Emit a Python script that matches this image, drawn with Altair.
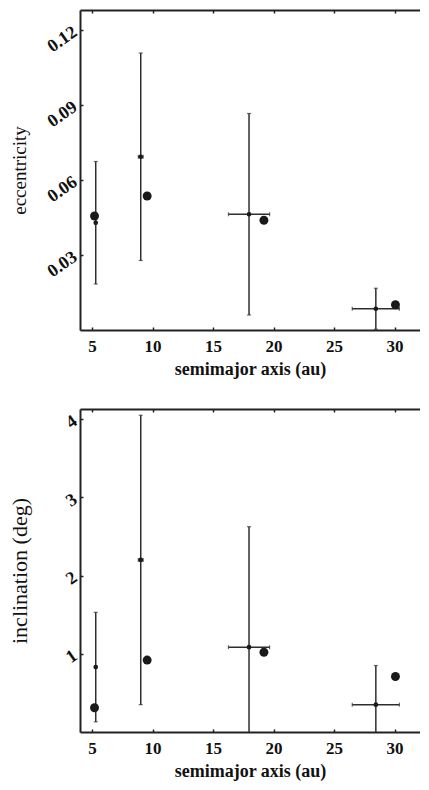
import altair as alt
import pandas as pd

# ---- data ----
planets = ["Jupiter", "Saturn", "Uranus", "Neptune"]
a_obs = [5.3, 9.02, 17.97, 28.45]        # semimajor axis of model point (au)
a_err = [0.05, 0.2, 1.7, 1.95]           # horizontal error half-width
e_obs = [0.0429, 0.0693, 0.0463, 0.0085]
e_err = [0.0245, 0.0415, 0.0403, 0.0082]
i_obs = [0.83, 2.20, 1.085, 0.35]
i_err = [0.70, 1.85, 1.54, 0.50]
a_true = [5.2, 9.55, 19.2, 30.07]        # actual planets (big dots)
e_true = [0.0456, 0.0536, 0.0439, 0.0101]
i_true = [0.31, 0.92, 1.02, 0.71]

x_ticks = [5, 10, 15, 20, 25, 30]
e_ticks = [0.03, 0.06, 0.09, 0.12]
i_ticks = [1, 2, 3, 4]

FONT = "Liberation Serif"
INK = "#1a1a1a"
BAR = "#2e2e2e"
XDOM = [4, 32.1]
W = 340


def panel(yobs, yerr, ytrue, ydom, yvals, yfmt, ytitle, ytsize, h):
    d = pd.DataFrame({
        "planet": planets,
        "a": a_obs,
        "a_lo": [a - e for a, e in zip(a_obs, a_err)],
        "a_hi": [a + e for a, e in zip(a_obs, a_err)],
        "y": yobs,
        "y_lo": [v - e for v, e in zip(yobs, yerr)],
        "y_hi": [v + e for v, e in zip(yobs, yerr)],
        "a_t": a_true,
        "y_t": ytrue,
    })
    xs = alt.Scale(domain=XDOM, nice=False, zero=False)
    ys = alt.Scale(domain=ydom, nice=False, zero=False)
    ticks_in = dict(domain=False, grid=False, offset=-3, tickSize=3,
                    tickColor="#222", tickWidth=1.5)
    frame = dict(domain=True, domainColor="#222", domainWidth=2,
                 ticks=False, labels=False, title=None, grid=False)

    x_main = alt.Axis(orient="bottom", values=x_ticks, format="d",
                      title="semimajor axis (au)",
                      labelFont=FONT, labelFontSize=17, labelFontWeight="bold",
                      labelColor="#111", labelPadding=8,
                      titleFont=FONT, titleFontSize=18, titleFontWeight="bold",
                      titleColor="#111", titleX=W / 2, titleY=42,
                      titleBaseline="middle", **ticks_in)
    y_main = alt.Axis(orient="left", values=yvals, format=yfmt, title=ytitle,
                      labelFont=FONT, labelFontSize=18, labelFontWeight="bold",
                      labelColor="#111", labelAngle=325, labelAlign="right",
                      labelBaseline="middle", labelPadding=5,
                      titleFont=FONT, titleFontSize=ytsize, titleFontWeight="normal",
                      titleColor="#111", titleX=-64, titleY=h / 2,
                      titleBaseline="middle", **ticks_in)
    x_bot_frame = alt.Axis(orient="bottom", **frame)
    y_left_frame = alt.Axis(orient="left", **frame)
    x_top_ticks = alt.Axis(orient="top", values=x_ticks, labels=False, title=None,
                           **ticks_in)
    x_top_frame = alt.Axis(orient="top", **frame)

    vr = alt.Chart(d).mark_rule(color=BAR, strokeWidth=1.5, clip=True).encode(
        x=alt.X("a:Q", scale=xs, axis=x_main),
        y=alt.Y("y_lo:Q", scale=ys, axis=y_main),
        y2="y_hi:Q",
    )
    hr = alt.Chart(d).mark_rule(color=BAR, strokeWidth=1.5, clip=True).encode(
        x=alt.X("a_lo:Q", scale=xs, axis=x_bot_frame),
        x2="a_hi:Q",
        y=alt.Y("y:Q", scale=ys, axis=y_left_frame),
    )
    vcaps = alt.Chart(d).transform_fold(["y_lo", "y_hi"], as_=["k", "v"]).mark_tick(
        orient="horizontal", size=4, thickness=1.2, color=BAR, clip=True
    ).encode(
        x=alt.X("a:Q", scale=xs, axis=None),
        y=alt.Y("v:Q", scale=ys, axis=None),
    )
    hcaps = alt.Chart(d).transform_fold(["a_lo", "a_hi"], as_=["k", "v"]).mark_tick(
        orient="vertical", size=4, thickness=1.2, color=BAR, clip=True
    ).encode(
        x=alt.X("v:Q", scale=xs, axis=None),
        y=alt.Y("y:Q", scale=ys, axis=None),
    )
    sp = alt.Chart(d).mark_circle(size=22, color=INK, opacity=1).encode(
        x=alt.X("a:Q", scale=xs, axis=x_top_ticks),
        y=alt.Y("y:Q", scale=ys, axis=None),
    )
    bp = alt.Chart(d).mark_circle(size=80, color=INK, opacity=1).encode(
        x=alt.X("a_t:Q", scale=xs, axis=x_top_frame),
        y=alt.Y("y_t:Q", scale=ys, axis=None),
    )
    return alt.layer(vr, hr, vcaps, hcaps, sp, bp).resolve_axis(
        x="independent", y="independent"
    ).properties(width=W, height=h)


top = panel(e_obs, e_err, e_true, [0, 0.128], e_ticks, ".2f", "eccentricity", 19, 320)
bottom = panel(i_obs, i_err, i_true, [0, 4.13], i_ticks, "d", "inclination (deg)", 22, 323)

chart = alt.vconcat(top, bottom, spacing=79, bounds="flush").properties(
    padding={"left": 0, "top": 1, "right": 0, "bottom": 4}
).configure_view(stroke=None)

chart.save("out.html", embed_options={"renderer": "svg", "actions": False})
